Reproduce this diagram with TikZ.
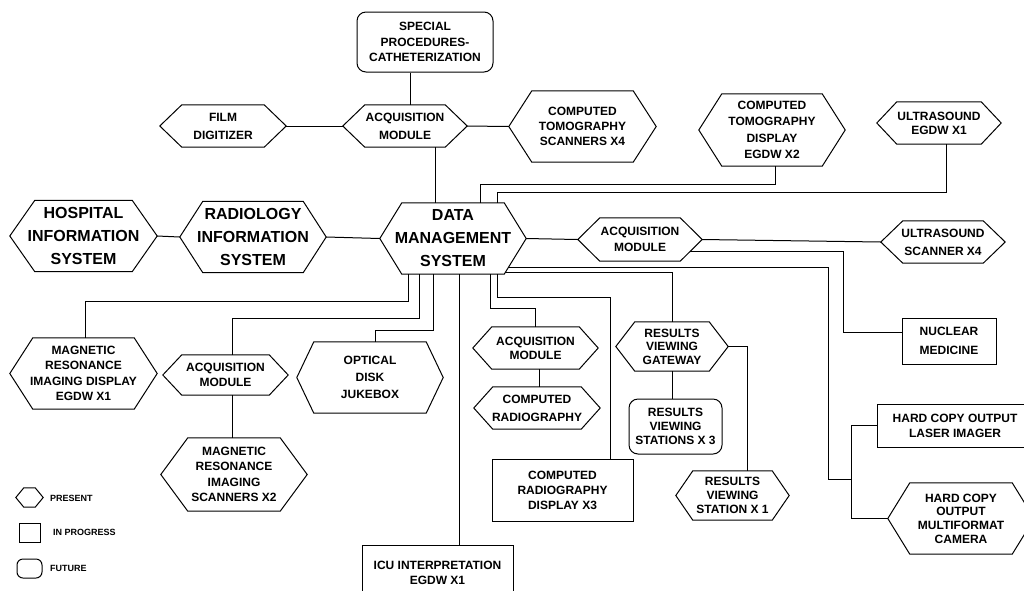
\documentclass[tikz,border=0pt]{standalone}
\usepackage{fontspec}
\setmainfont{Liberation Sans}
\usetikzlibrary{calc}

\begin{document}
\begin{tikzpicture}[x=1pt,y=-1pt,
  lsp/.style={font=\fontsize{12}{#1}\selectfont\bfseries},
  lsp/.default=15,
  sz/.style 2 args={minimum width=#1pt, minimum height=#2pt},
  hexbox/.style={rectangle, align=center, inner sep=0pt, lsp},
  bigtext/.style={font=\fontsize{16}{23}\selectfont\bfseries},
  plainbox/.style={rectangle, draw, line width=1pt, align=center, inner sep=0pt, lsp},
  roundbox/.style={plainbox, rounded corners=9pt},
  outline/.style={line width=1pt, line join=miter},
  wire/.style={line width=1pt},
  legend/.style={font=\fontsize{9}{10}\selectfont\bfseries, anchor=west, inner sep=0pt},
]
\useasboundingbox (0,0) rectangle (1024,590);

% ---------- top row ----------
\node[roundbox, sz={136}{60}, lsp=15.5] (spc) at (425,42) {SPECIAL\\PROCEDURES-\\CATHETERIZATION};
\node[hexbox, sz={126}{42}, lsp=18] (film) at (223,126) {FILM\\DIGITIZER};
\node[hexbox, sz={124}{42}, lsp=18] (acqT) at (405,126) {ACQUISITION\\MODULE};
\node[hexbox, sz={147}{71}] (cts) at (582.5,126.5) {COMPUTED\\TOMOGRAPHY\\SCANNERS X4};
\node[hexbox, sz={146}{72}, lsp=16.5] (ctd) at (772,130) {COMPUTED\\TOMOGRAPHY\\DISPLAY\\EGDW X2};
\node[hexbox, sz={124}{42}, lsp=14] (usd) at (939,123) {ULTRASOUND\\EGDW X1};

% ---------- central row ----------
\node[hexbox, sz={147}{71}, bigtext] (his) at (83.5,236) {HOSPITAL\\INFORMATION\\SYSTEM};
\node[hexbox, sz={146}{71}, bigtext] (ris) at (253,237) {RADIOLOGY\\INFORMATION\\SYSTEM};
\node[hexbox, sz={146}{71}, bigtext] (dms) at (453,238.5) {DATA\\MANAGEMENT\\SYSTEM};
\node[hexbox, sz={124}{43}, lsp=15.7] (acqR) at (640,239.5) {ACQUISITION\\MODULE};
\node[hexbox, sz={124}{42}, lsp=18] (uss) at (943,242) {ULTRASOUND\\SCANNER X4};

% ---------- lower part ----------
\node[plainbox, sz={94}{46}, lsp=18.5] (nuc) at (949,341) {NUCLEAR\\MEDICINE};
\node[hexbox, sz={147}{71}, lsp=15.5] (mrd) at (83.5,373.5) {MAGNETIC\\RESONANCE\\IMAGING DISPLAY\\EGDW X1};
\node[hexbox, sz={125}{40}, lsp=14.3] (acqM) at (225.5,375) {ACQUISITION\\MODULE};
\node[hexbox, sz={146}{73}, lsp=15.3] (mrs) at (234,474.5) {MAGNETIC\\RESONANCE\\IMAGING\\SCANNERS X2};
\node[hexbox, sz={146}{71}, lsp=16.7] (odj) at (370,377.5) {OPTICAL\\DISK\\JUKEBOX};
\node[hexbox, sz={125}{42}, lsp=14] (acqC) at (535.5,348) {ACQUISITION\\MODULE};
\node[hexbox, sz={126}{42}, lsp=18] (cr) at (537,408) {COMPUTED\\RADIOGRAPHY};
\node[hexbox, sz={112}{49}, lsp=13.5] (rvg) at (672,346.5) {RESULTS\\VIEWING\\GATEWAY};
\node[roundbox, sz={93}{55}, lsp=14] (rvs3) at (675.5,426.5) {RESULTS\\VIEWING\\STATIONS X 3};
\node[hexbox, sz={113}{49}, lsp=13.8] (rvs1) at (732.5,495.5) {RESULTS\\VIEWING\\STATION X 1};
\node[plainbox, sz={141}{62}] (crd) at (562.5,490) {COMPUTED\\RADIOGRAPHY\\DISPLAY X3};
\node[plainbox, sz={156}{43}] (hcl) at (955,425.5) {HARD COPY OUTPUT\\LASER IMAGER};
\node[hexbox, sz={146}{71}, lsp=13.7] (hcc) at (961,518.5) {HARD COPY\\OUTPUT\\MULTIFORMAT\\CAMERA};
\node[plainbox, sz={151}{55}] (icu) at (437.5,572.5) {ICU INTERPRETATION\\EGDW X1};

% ---------- legend ----------
\node[hexbox, sz={27}{19}] (lhex) at (29.5,497.5) {};
\node[plainbox, sz={21}{19}] (lbox) at (29.5,532.5) {};
\node[roundbox, sz={25}{19}, rounded corners=6pt] (lround) at (29.5,568.5) {};
\node[legend] (ltxt1) at (50,498) {PRESENT};
\node[legend] (ltxt2) at (53,532.5) {IN PROGRESS};
\node[legend] (ltxt3) at (50,568.5) {FUTURE};

% hexagon outlines: flat top and bottom, pointed ends at the west and east anchors
\foreach \n/\d in {film/22, acqT/22, cts/23, ctd/23, usd/20, his/25, ris/23, dms/22,
                   acqR/22, uss/22, mrd/23, acqM/19, mrs/27, odj/17, acqC/19, cr/19,
                   rvg/19, rvs1/17, hcc/22, lhex/8}{
  \draw[outline] (\n.west) -- ($(\n.north west)+(\d,0)$) -- ($(\n.north east)+(-\d,0)$)
    -- (\n.east) -- ($(\n.south east)+(-\d,0)$) -- ($(\n.south west)+(\d,0)$) -- cycle;
}

% ---------- bend points of the connectors ----------
\coordinate (k1) at (410,90);
\coordinate (k2) at (435,170);
\coordinate (k3a) at (775,184);
\coordinate (k3) at (480,184);
\coordinate (k4a) at (946,192);
\coordinate (k4) at (497,192);
\coordinate (k5) at (843,332);
\coordinate (k6) at (828,479);
\coordinate (k6b) at (851,479);
\coordinate (k7) at (497,297);
\coordinate (k7b) at (610,297);
\coordinate (k8) at (490,308);
\coordinate (k9) at (459,300);
\coordinate (k10) at (433,330);
\coordinate (k10b) at (375,330);
\coordinate (k11) at (419,318);
\coordinate (k11b) at (232,318);
\coordinate (k12) at (408,301);
\coordinate (k12b) at (85,301);
\coordinate (k13) at (539,380);
\coordinate (k14) at (747,400);
\coordinate (acqRcorner) at ($(acqR.south east)+(-22,0)$);
\coordinate (dmscorner) at ($(dms.south east)+(-22,0)$);

% ---------- connectors ----------
\draw[wire] (spc.south -| k1) -- (acqT.north -| k1);
\draw[wire] (film.east) -- (acqT.west);
\draw[wire] (acqT.east) -- (cts.west);
\draw[wire] (acqT.south -| k2) -- (dms.north -| k2);
\draw[wire] (ctd.south -| k3a) -- (k3a) -- (k3) -- (dms.north -| k3);
\draw[wire] (usd.south -| k4a) -- (k4a) -- (k4) -- (dms.north -| k4);
\draw[wire] (his.east) -- (ris.west);
\draw[wire] (ris.east) -- (dms.west);
\draw[wire] (dms.east) -- (acqR.west);
\draw[wire] (acqR.east) -- (uss.west);
\draw[wire] ($(acqR.east)!0.55!(acqRcorner)$) -| (k5) -- (k5 -| nuc.west);
\draw[wire] ($(dms.east)!0.8!(dmscorner)$) -| (k6) -- (k6b);
\draw[wire] (hcl.west) -| (k6b) |- (hcc.west);
\draw[wire] ($(dms.east)!0.95!(dmscorner)$) -| (rvg.north);
\draw[wire] (dms.south -| k7) -- (k7) -- (k7b) -- (crd.north -| k7b);
\draw[wire] (dms.south -| k8) -- (k8) -| (acqC.north);
\draw[wire] (dms.south -| k9) -- (icu.north -| k9);
\draw[wire] (dms.south -| k10) -- (k10) -- (k10b) -- (odj.north -| k10b);
\draw[wire] (dms.south -| k11) -- (k11) -- (k11b) -- (acqM.north -| k11b);
\draw[wire] (dms.south -| k12) -- (k12) -- (k12b) -- (mrd.north -| k12b);
\draw[wire] (acqM.south -| k11b) -- (mrs.north -| k11b);
\draw[wire] (acqC.south -| k13) -- (cr.north -| k13);
\draw[wire] (rvg.south) -- (rvg.south |- rvs3.north);
\draw[wire] (rvg.east) -| (rvs1.north -| k14);

\end{tikzpicture}
\end{document}
